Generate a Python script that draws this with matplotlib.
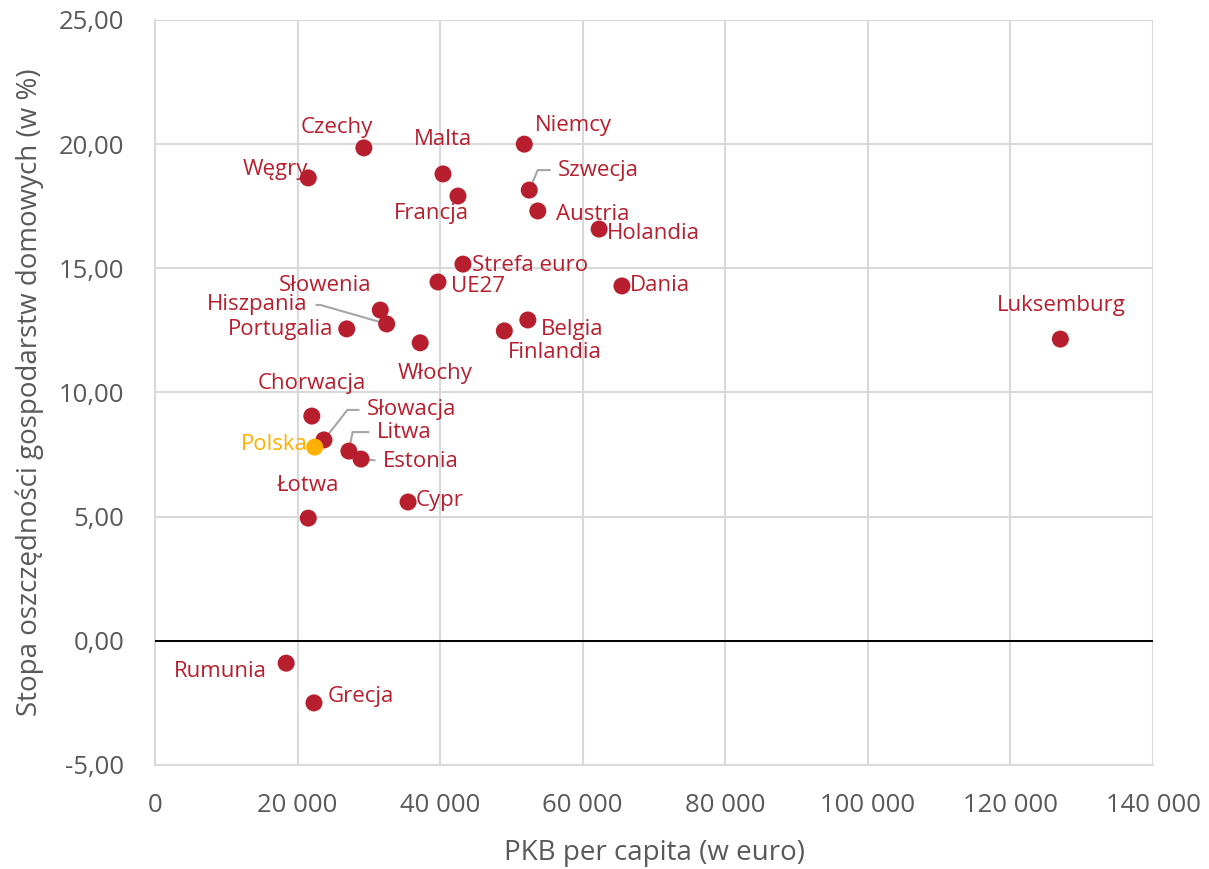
import matplotlib.pyplot as plt
from matplotlib.ticker import FuncFormatter, MultipleLocator

plt.rcParams['font.family'] = ['Open Sans', 'DejaVu Sans']

# PKB per capita (euro) vs household savings rate (%)
kraje = ['Niemcy', 'Czechy', 'Węgry', 'Malta', 'Szwecja', 'Francja', 'Austria',
         'Holandia', 'Strefa euro', 'UE27', 'Dania', 'Słowenia', 'Hiszpania',
         'Portugalia', 'Belgia', 'Finlandia', 'Włochy', 'Luksemburg', 'Chorwacja',
         'Słowacja', 'Polska', 'Litwa', 'Estonia', 'Cypr', 'Łotwa', 'Rumunia', 'Grecja']
pkb = [51800, 29300, 21500, 40400, 52500, 42500, 53700,
       62300, 43200, 39700, 65500, 31600, 32500,
       26900, 52300, 49000, 37200, 127000, 22000,
       23700, 22400, 27200, 28900, 35500, 21500, 18400, 22300]
stopa = [20.0, 19.85, 18.64, 18.8, 18.15, 17.91, 17.31,
         16.58, 15.17, 14.45, 14.29, 13.32, 12.76,
         12.56, 12.92, 12.48, 12.0, 12.15, 9.05,
         8.09, 7.8, 7.64, 7.32, 5.59, 4.94, -0.9, -2.5]

RED = '#B71F2E'
ORANGE = '#FFB000'
GRAY = '#A6A6A6'

# label placement (offset in pixels from the point, alignment, leader angle)
lab_dx = [11, -27, -33, 0, 29, -27, 18, 8, 9, 13, 8, -55, -129,
          -66, 13, 51, 15, 1, 0, 43, -40, 28, 22, 8, 0, -66, 14]
lab_dy = [19, 20, 8, 34, 20, -17, -4, -4, -1, -5, 0, 25, 19,
          -1, -10, -22, -31, 34, 33, 30, 3, 19, -2, 1, 33, -8, 6]
lab_ha = ['left', 'center', 'center', 'center', 'left', 'center', 'left', 'left',
          'left', 'left', 'left', 'center', 'center', 'center', 'left', 'center',
          'center', 'center', 'center', 'left', 'center', 'left', 'left', 'left',
          'center', 'center', 'left']
leaders = {'Szwecja': ('angle,angleA=0,angleB=67,rad=0', (0, 0.5)),
           'Hiszpania': ('angle,angleA=0,angleB=-16,rad=0', (1, 0.5)),
           'Słowacja': ('angle,angleA=0,angleB=52,rad=0', (0, 0.5)),
           'Litwa': ('angle,angleA=0,angleB=79,rad=0', (0, 0.5)),
           'Estonia': ('arc3,rad=0', (0, 0.5))}

fig = plt.figure(figsize=(12.09, 8.69), dpi=100)
ax = fig.add_axes([0.1282, 0.1197, 0.8255, 0.8573])

colors = [ORANGE if k == 'Polska' else RED for k in kraje]
ax.scatter(pkb, stopa, s=150, c=colors, zorder=4, linewidths=0)
ax.axhline(0, color='black', linewidth=1.4, zorder=3)

for i, k in enumerate(kraje):
    col = ORANGE if k == 'Polska' else RED
    kw = {}
    if k in leaders:
        cs, rel = leaders[k]
        kw['arrowprops'] = dict(arrowstyle='-', color=GRAY, lw=1.5, shrinkA=4, shrinkB=2,
                                relpos=rel, connectionstyle=cs)
    ax.annotate(k, (pkb[i], stopa[i]), xytext=(lab_dx[i], lab_dy[i]),
                textcoords='offset pixels', ha=lab_ha[i], va='center',
                color=col, fontsize=16, zorder=2, **kw)

ax.set_xlim(0, 140000)
ax.set_ylim(-5, 25)
ax.xaxis.set_major_locator(MultipleLocator(20000))
ax.yaxis.set_major_locator(MultipleLocator(5))
ax.xaxis.set_major_formatter(FuncFormatter(lambda v, p: f'{int(v):,}'.replace(',', ' ')))
ax.yaxis.set_major_formatter(FuncFormatter(lambda v, p: f'{v:.2f}'.replace('.', ',')))
ax.grid(True, color='#D9D9D9', linewidth=1.5, zorder=0)
ax.set_axisbelow(True)
for s in ['top', 'right']:
    ax.spines[s].set_visible(False)
for s in ['left', 'bottom']:
    ax.spines[s].set_color('#D9D9D9')
    ax.spines[s].set_linewidth(1.5)
ax.tick_params(length=0, labelsize=18.5, colors='#595959')
ax.tick_params(axis='x', pad=20)
ax.tick_params(axis='y', pad=22)

ax.set_xlabel('PKB per capita (w euro)', fontsize=20, color='#595959', labelpad=15)
ax.set_ylabel('Stopa oszczędności gospodarstw domowych (w %)', fontsize=20,
              color='#595959', labelpad=11)

fig.savefig('out.png', dpi=100)
